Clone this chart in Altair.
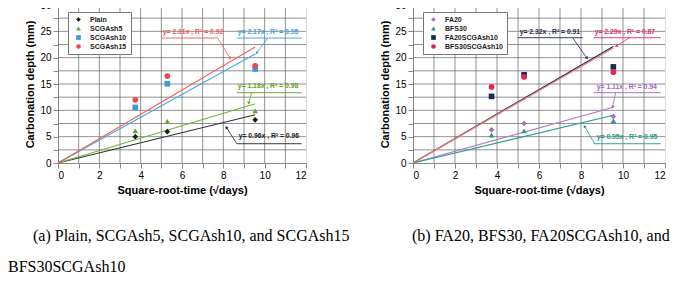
import math
import altair as alt
import pandas as pd

# ---------------- data ----------------
X_TIME = [3.74, 5.29, 9.54]          # sqrt(days)

# panel (a)
A_SERIES = ["Plain", "SCGAsh5", "SCGAsh10", "SCGAsh15"]
PLAIN = [5.0, 5.95, 8.2]
SCGASH5 = [6.1, 7.9, 9.9]
SCGASH10 = [10.55, 15.05, 17.85]
SCGASH15 = [12.0, 16.5, 18.45]
A_SLOPES = [0.96, 1.18, 2.17, 2.31]
A_R2 = [0.96, 0.98, 0.95, 0.92]

# panel (b)
B_SERIES = ["FA20", "BFS30", "FA20SCGAsh10", "BFS30SCGAsh10"]
FA20 = [6.3, 7.5, 8.85]
BFS30 = [5.3, 6.1, 8.0]
FA20SCGASH10 = [12.65, 16.75, 18.25]
BFS30SCGASH10 = [14.45, 16.35, 17.25]
B_SLOPES = [1.11, 0.95, 2.32, 2.29]
B_R2 = [0.94, 0.95, 0.91, 0.87]

X_TICKS = list(range(0, 13))
Y_TICKS = [i * 2.5 for i in range(13)]

# annotation anchors (data units): text x, text y, underline x1, x2, y, leader x1, y1, x2, y2
A_ANN = [
    [8.74, 5.05, 8.65, 11.79, 3.66, 8.65, 3.66, 8.16, 6.70],
    [8.70, 14.55, 8.65, 11.79, 13.35, 9.37, 13.35, 9.23, 11.45],
    [8.70, 24.95, 8.65, 11.79, 23.73, 10.15, 23.73, 9.62, 20.94],
    [5.07, 24.95, 5.02, 7.73, 23.73, 7.73, 23.73, 8.31, 19.99],
]
B_ANN = [
    [8.75, 14.40, 8.60, 11.80, 13.35, 9.65, 13.35, 9.51, 10.69],
    [8.75, 4.95, 8.60, 11.80, 3.66, 8.65, 3.66, 8.18, 6.89],
    [5.08, 24.90, 4.99, 8.08, 23.79, 7.60, 23.79, 8.27, 19.99],
    [8.65, 24.90, 8.60, 11.80, 23.79, 10.32, 23.79, 9.70, 22.27],
]

# ---------------- styles ----------------
A_PCOL = ["#1a1a1a", "#5aab1e", "#3d9be0", "#f2474a"]
A_LCOL = ["#333333", "#6cb83a", "#4aa8e8", "#f26262"]
A_TCOL = ["#222222", "#5aa620", "#3aa0e2", "#f05a5a"]
B_PCOL = ["#a66fc2", "#27998a", "#1b2a4f", "#e2245e"]
B_LCOL = ["#b07ccc", "#2a9d8f", "#1f2d50", "#f27b7b"]
B_TCOL = ["#a264c4", "#1e9a8b", "#1f2d50", "#e2306a"]
SHAPES = ["diamond", "triangle-up", "square", "circle"]

W_A, W_B, H = 248, 252, 158
SANS = "Liberation Sans"
SERIF = "Liberation Serif"
GRID = "#5e5e5e"


def panel(series, values, slopes, r2, pcol, lcol, tcol, ann, width, caption, cdx):
    pts = pd.DataFrame(
        [{"series": s, "x": x, "y": v} for s, vals in zip(series, values) for x, v in zip(X_TIME, vals)]
    )
    xend = X_TIME[-1]
    lines = pd.DataFrame(
        [{"series": s, "x": x, "y": k * x, "c": c}
         for s, k, c in zip(series, slopes, lcol) for x in (0.0, xend)]
    )
    sx = width / 12.0
    sy = H / 30.0
    rows = []
    for s, k, r, c, a in zip(series, slopes, r2, tcol, ann):
        dxp = (a[7] - a[5]) * sx
        dyp = -(a[8] - a[6]) * sy
        ang = math.degrees(math.atan2(dxp, -dyp)) % 360
        rows.append({
            "label": f"y= {k:.2f}x , R² = {r:.2f}",
            "tx": a[0], "ty": a[1], "ux1": a[2], "ux2": a[3], "uy": a[4],
            "lx1": a[5], "ly1": a[6], "lx2": a[7], "ly2": a[8], "ang": ang, "c": c,
        })
    ann_df = pd.DataFrame(rows)
    gx = pd.DataFrame({"g": X_TICKS[1:-1]})
    gy = pd.DataFrame({"g": Y_TICKS[1:-1]})

    xs = alt.Scale(domain=[0, 12], nice=False)
    ys = alt.Scale(domain=[0, 30], nice=False)
    xax = alt.Axis(values=X_TICKS, labelExpr="datum.value % 2 == 0 ? datum.label : ''",
                   title="Square-root-time (√days)", format="d", grid=False)
    yax = alt.Axis(values=Y_TICKS, labelExpr="datum.value % 5 == 0 ? datum.label : ''",
                   title="Carbonation depth (mm)", format="d", grid=False)

    def X(f):
        return alt.X(f, type="quantitative", scale=xs, axis=xax)

    def Y(f):
        return alt.Y(f, type="quantitative", scale=ys, axis=yax)

    grid_x = alt.Chart(gx).mark_rule(stroke=GRID, strokeWidth=0.8, opacity=0.85).encode(x=X("g"))
    grid_y = alt.Chart(gy).mark_rule(stroke=GRID, strokeWidth=0.8, opacity=0.85).encode(y=Y("g"))

    line_layer = alt.Chart(lines).mark_line(strokeWidth=1.2).encode(
        x=X("x"), y=Y("y"),
        detail="series:N",
        stroke=alt.Stroke("c:N", scale=None),
    )
    point_layer = alt.Chart(pts).mark_point(filled=True, size=32, opacity=1).encode(
        x=X("x"), y=Y("y"),
        color=alt.Color("series:N", scale=alt.Scale(domain=series, range=pcol),
                        legend=alt.Legend(
                            title=None, orient="none", legendX=10, legendY=7,
                            fillColor="white", strokeColor="#777", padding=4,
                            labelFont=SANS, labelFontWeight="bold", labelFontSize=7,
                            labelColor="#222", symbolSize=22, rowPadding=1,
                            labelOffset=8, symbolOffset=3, symbolStrokeWidth=0)),
        shape=alt.Shape("series:N", scale=alt.Scale(domain=series, range=SHAPES)),
    )
    under = alt.Chart(ann_df).mark_rule(strokeWidth=0.9).encode(
        x=X("ux1"), x2="ux2:Q", y=Y("uy"), stroke=alt.Stroke("c:N", scale=None))
    leader = alt.Chart(ann_df).mark_rule(strokeWidth=0.8).encode(
        x=X("lx1"), y=Y("ly1"), x2="lx2:Q", y2="ly2:Q", stroke=alt.Stroke("c:N", scale=None))
    head = alt.Chart(ann_df).mark_point(shape="triangle", filled=True, size=12, opacity=1).encode(
        x=X("lx2"), y=Y("ly2"), angle=alt.Angle("ang:Q", scale=None),
        fill=alt.Fill("c:N", scale=None))
    text = alt.Chart(ann_df).mark_text(align="left", baseline="middle", font=SANS,
                                       fontSize=6.8, fontWeight="bold").encode(
        x=X("tx"), y=Y("ty"), text="label:N", fill=alt.Fill("c:N", scale=None))

    return alt.layer(grid_x, grid_y, line_layer, point_layer, under, leader, head, text).properties(
        width=width, height=H,
        title=alt.TitleParams(caption, orient="bottom", anchor="start", frame="group",
                              dx=cdx, offset=33, baseline="top", font=SERIF, fontSize=16,
                              fontWeight="normal", color="black"),
    )


left = panel(A_SERIES, [PLAIN, SCGASH5, SCGASH10, SCGASH15], A_SLOPES, A_R2,
             A_PCOL, A_LCOL, A_TCOL, A_ANN, W_A,
             "(a) Plain, SCGAsh5, SCGAsh10, and SCGAsh15", -25)
right = panel(B_SERIES, [FA20, BFS30, FA20SCGASH10, BFS30SCGASH10], B_SLOPES, B_R2,
              B_PCOL, B_LCOL, B_TCOL, B_ANN, W_B,
              "(b) FA20, BFS30, FA20SCGAsh10, and", -1)

chart = alt.hconcat(left, right, spacing=107, bounds="flush").resolve_scale(
    color="independent", shape="independent"
).resolve_legend(color="independent", shape="independent").properties(
    title=alt.TitleParams("BFS30SCGAsh10", orient="bottom", anchor="start", frame="group",
                          dx=-50, offset=14, baseline="top", font=SERIF, fontSize=16,
                          fontWeight="normal", color="black"),
    padding={"left": 0, "top": -9, "right": 5, "bottom": 5},
).configure_view(
    fill="#e7e9ec", stroke="#555555", strokeWidth=1
).configure_axis(
    labelFont=SANS, labelFontWeight="bold", labelFontSize=9, labelColor="#222",
    titleFont=SANS, titleFontWeight="bold", titleFontSize=9.5, titleColor="#222",
    tickColor="#555", tickSize=4, domainColor="#555", labelPadding=2, titlePadding=3,
).configure(background="white")

chart.save("out.html", embed_options={"renderer": "svg", "actions": False})
